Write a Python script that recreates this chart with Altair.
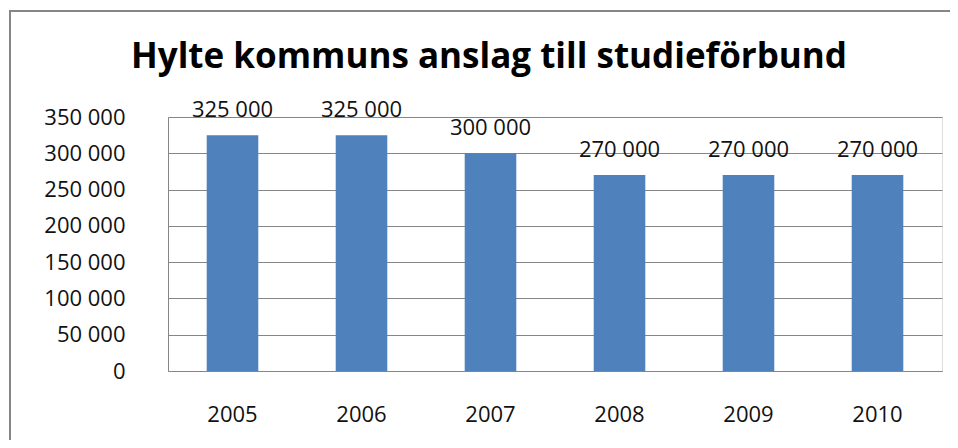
import altair as alt
import pandas as pd

years = ["2005", "2006", "2007", "2008", "2009", "2010"]
values = [325000, 325000, 300000, 270000, 270000, 270000]
y_ticks = [0, 50000, 100000, 150000, 200000, 250000, 300000, 350000]
title_text = "Hylte kommuns anslag till studieförbund"

df = pd.DataFrame({"year": years, "value": values})
df["label"] = [f"{v:,}".replace(",", " ") for v in values]

FONT = "Open Sans"
GRAY = "#868686"
TXT = "#111111"

x_enc = alt.X(
    "year:N",
    sort=years,
    scale=alt.Scale(paddingInner=0.6, paddingOuter=0.3),
    axis=alt.Axis(
        title=None, labelAngle=0, ticks=False, domain=True, domainColor=GRAY,
        domainWidth=1, labelFont=FONT, labelFontSize=22, labelPadding=33,
        labelColor=TXT, grid=False, labelOverlap=False,
    ),
)
y_enc = alt.Y(
    "value:Q",
    scale=alt.Scale(domain=[0, 350000], nice=False),
    axis=alt.Axis(
        title=None, values=y_ticks, grid=True, gridColor=GRAY, gridWidth=1,
        ticks=False, domain=True, domainColor=GRAY, labelPadding=43,
        labelFont=FONT, labelFontSize=22, labelColor=TXT, labelOverlap=False,
        labelExpr="replace(format(datum.value, ','), ',', ' ')",
    ),
)

base = alt.Chart(df)
bars = base.mark_bar(color="#4F81BD").encode(x=x_enc, y=y_enc)
labels = base.mark_text(
    baseline="alphabetic", dy=-18, font=FONT, fontSize=22, color=TXT
).encode(x=x_enc, y=y_enc, text="label:N")

one = alt.Chart(pd.DataFrame({"t": [title_text]}))
frame = one.mark_rect(fill=None, stroke=GRAY, strokeWidth=2).encode(
    x=alt.value(-158), x2=alt.value(900), y=alt.value(-106), y2=alt.value(400)
)
title = one.mark_text(
    font=FONT, fontSize=35, fontWeight="bold", color="#000000",
    align="center", baseline="alphabetic",
).encode(x=alt.value(321), y=alt.value(-49), text="t:N")

chart = (
    alt.layer(bars, labels, frame, title)
    .properties(
        width=774,
        height=254,
        autosize=alt.AutoSizeParams(type="none"),
        padding={"left": 160, "top": 109, "right": 8, "bottom": 69},
    )
    .configure_view(stroke=None)
    .configure(background="white")
)

chart.save("out.html", embed_options={"renderer": "svg", "actions": False})
